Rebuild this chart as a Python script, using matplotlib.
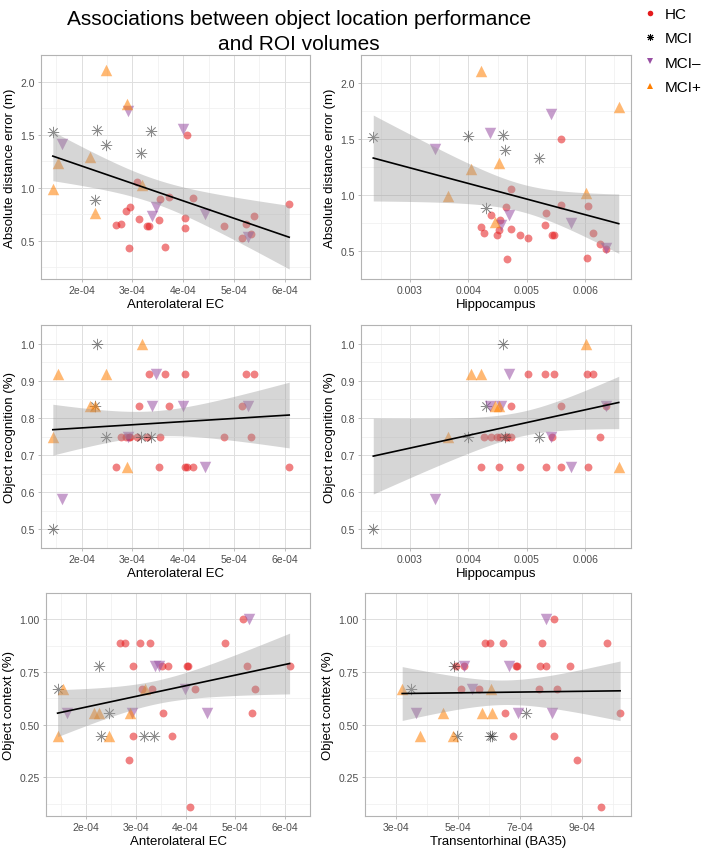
import numpy as np
import matplotlib
matplotlib.use("Agg")
import matplotlib.pyplot as plt
from matplotlib.lines import Line2D

plt.rcParams['font.family'] = ['Liberation Sans', 'DejaVu Sans']

W, H = 709, 853

# ---- data, one entry per subject ----
hc_alec = [2.68e-4, 2.78e-4, 2.87e-4, 2.94e-4, 2.95e-4, 3.08e-4, 3.13e-4, 3.28e-4, 3.33e-4, 3.53e-4, 3.54e-4, 3.64e-4,
           3.73e-4, 4.03e-4, 4.04e-4, 4.08e-4, 4.20e-4, 4.80e-4, 5.16e-4, 5.23e-4, 5.34e-4, 5.40e-4, 6.09e-4]
hc_hippo = [0.004884, 0.004264, 0.004537, 0.004662, 0.004394, 0.00473, 0.00473, 0.005425, 0.005459, 0.004525, 0.004639, 0.006034,
            0.005578, 0.005026, 0.004218, 0.005578, 0.006051, 0.004491, 0.006364, 0.006136, 0.00625, 0.005305, 0.005333]
hc_ba35 = [5.88e-4, 6.02e-4, 8.85e-4, 6.77e-4, 4.93e-4, 6.44e-4, 5.09e-4, 7.71e-4, 5.69e-4, 5.20e-4, 6.51e-4, 6.87e-4,
           8.10e-4, 6.91e-4, 7.64e-4, 9.61e-4, 7.62e-4, 9.80e-4, 8.10e-4, 7.84e-4, 10.23e-4, 8.18e-4, 8.60e-4]
hc_dist = [0.647, 0.66, 0.78, 0.43, 0.82, 1.05, 0.70, 0.64, 0.64, 0.69, 0.89, 0.44,
           0.915, 0.62, 0.71, 1.50, 0.90, 0.64, 0.52, 0.66, 0.56, 0.73, 0.84]
hc_recog = [0.667, 0.75, 0.75, 0.75, 0.75, 0.75, 0.833, 0.75, 0.917, 0.667, 0.75, 0.917,
            0.833, 0.917, 0.667, 0.667, 0.667, 0.75, 0.833, 0.917, 0.75, 0.917, 0.667]
hc_context = [0.889, 0.889, 0.333, 0.444, 0.778, 0.889, 0.667, 0.889, 0.667, 0.778, 0.556, 0.778,
              0.444, 0.778, 0.778, 0.111, 0.667, 0.889, 1.0, 0.778, 0.556, 0.667, 0.778]

mci_alec = [1.44e-4, 2.26e-4, 2.30e-4, 2.47e-4, 3.16e-4, 3.36e-4]
mci_hippo = [0.00237, 0.00430, 0.00460, 0.00462, 0.00521, 0.00400]
mci_ba35 = [3.49e-4, 4.88e-4, 4.98e-4, 7.21e-4, 6.02e-4, 6.10e-4]
mci_dist = [1.52, 0.88, 1.54, 1.40, 1.33, 1.53]
mci_recog = [0.5, 0.833, 1.0, 0.75, 0.75, 0.75]
mci_context = [0.667, 0.778, 0.444, 0.556, 0.444, 0.444]

mcin_alec = [1.61e-4, 2.92e-4, 3.39e-4, 3.46e-4, 3.99e-4, 4.43e-4, 5.27e-4]
mcin_hippo = [0.00343, 0.00541, 0.00456, 0.00470, 0.00437, 0.00576, 0.00636]
mcin_ba35 = [3.65e-4, 6.93e-4, 5.20e-4, 6.64e-4, 5.45e-4, 8.04e-4, 7.85e-4]
mcin_dist = [1.41, 1.72, 0.73, 0.82, 1.55, 0.75, 0.53]
mcin_recog = [0.583, 0.75, 0.833, 0.917, 0.833, 0.667, 0.833]
mcin_context = [0.556, 0.556, 0.778, 0.778, 0.667, 0.556, 1.0]

mcip_alec = [1.43e-4, 1.53e-4, 2.17e-4, 2.27e-4, 2.47e-4, 2.89e-4, 3.19e-4]
mcip_hippo = [0.003655, 0.004036, 0.004531, 0.004451, 0.004207, 0.006574, 0.006005]
mcip_ba35 = [3.78e-4, 3.20e-4, 4.53e-4, 5.76e-4, 4.83e-4, 6.10e-4, 6.07e-4]
mcip_dist = [0.99, 1.23, 1.29, 0.76, 2.11, 1.79, 1.02]
mcip_recog = [0.75, 0.917, 0.833, 0.833, 0.917, 0.667, 1.0]
mcip_context = [0.444, 0.667, 0.556, 0.556, 0.444, 0.556, 0.667]

group_names = ['HC', 'MCI', 'MCI–', 'MCI+']
group_colors = ['#E41A1C', '#000000', '#984EA3', '#FF7F00']

# tick breaks and labels
alec_ticks = [2e-4, 3e-4, 4e-4, 5e-4, 6e-4]
alec_labels = ['2e-04', '3e-04', '4e-04', '5e-04', '6e-04']
hippo_ticks = [0.003, 0.004, 0.005, 0.006]
hippo_labels = ['0.003', '0.004', '0.005', '0.006']
ba35_ticks = [3e-4, 5e-4, 7e-4, 9e-4]
ba35_labels = ['3e-04', '5e-04', '7e-04', '9e-04']
dist_ticks = [0.5, 1.0, 1.5, 2.0]
dist_labels = ['0.5', '1.0', '1.5', '2.0']
recog_ticks = [0.5, 0.6, 0.7, 0.8, 0.9, 1.0]
recog_labels = ['0.5', '0.6', '0.7', '0.8', '0.9', '1.0']
context_ticks = [0.25, 0.50, 0.75, 1.00]
context_labels = ['0.25', '0.50', '0.75', '1.00']

data = {
    'HC': dict(alec=hc_alec, hippo=hc_hippo, ba35=hc_ba35, dist=hc_dist, recog=hc_recog, context=hc_context),
    'MCI': dict(alec=mci_alec, hippo=mci_hippo, ba35=mci_ba35, dist=mci_dist, recog=mci_recog, context=mci_context),
    'MCI–': dict(alec=mcin_alec, hippo=mcin_hippo, ba35=mcin_ba35, dist=mcin_dist, recog=mcin_recog, context=mcin_context),
    'MCI+': dict(alec=mcip_alec, hippo=mcip_hippo, ba35=mcip_ba35, dist=mcip_dist, recog=mcip_recog, context=mcip_context),
}

xinfo = {'alec': ('Anterolateral EC', alec_ticks, alec_labels),
         'hippo': ('Hippocampus', hippo_ticks, hippo_labels),
         'ba35': ('Transentorhinal (BA35)', ba35_ticks, ba35_labels)}
yinfo = {'dist': ('Absolute distance error (m)', dist_ticks, dist_labels),
         'recog': ('Object recognition (%)', recog_ticks, recog_labels),
         'context': ('Object context (%)', context_ticks, context_labels)}

# (x var, y var, panel box in pixels: left, top, right, bottom)
panels = [('alec', 'dist', (41, 56, 310, 280)),
          ('hippo', 'dist', (361, 56, 631, 280)),
          ('alec', 'recog', (41, 326, 310, 549)),
          ('hippo', 'recog', (361, 326, 631, 549)),
          ('alec', 'context', (46, 594, 310, 817)),
          ('ba35', 'context', (365, 594, 631, 817))]

styles = {'HC': dict(marker='o', s=32, linewidths=0, alpha=0.55),
          'MCI': dict(marker=(8, 2, 0), s=60, linewidths=0.55, alpha=0.45),
          'MCI–': dict(marker='v', s=68, linewidths=0, alpha=0.55),
          'MCI+': dict(marker='^', s=68, linewidths=0, alpha=0.55)}


def lm_band(x, y, npts=80, t=2.02):
    x = np.asarray(x)
    y = np.asarray(y)
    n = len(x)
    b, a = np.polyfit(x, y, 1)
    xs = np.linspace(x.min(), x.max(), npts)
    fit = a + b * xs
    resid = y - (a + b * x)
    s = np.sqrt(np.sum(resid ** 2) / (n - 2))
    xm = x.mean()
    se = s * np.sqrt(1 / n + (xs - xm) ** 2 / np.sum((x - xm) ** 2))
    return xs, fit, fit - t * se, fit + t * se


def minors(ticks):
    step = ticks[1] - ticks[0]
    return [ticks[0] - step / 2] + [v + step / 2 for v in ticks]


fig = plt.figure(figsize=(W / 100, H / 100), dpi=100)

for xv, yv, (l, t, r, b) in panels:
    ax = fig.add_axes([l / W, 1 - b / H, (r - l) / W, (b - t) / H])
    allx, ally = [], []
    for g, c in zip(group_names, group_colors):
        gx = data[g][xv]
        gy = data[g][yv]
        allx += gx
        ally += gy
        ax.scatter(gx, gy, color=c, zorder=2, **styles[g])
    xs, fit, lo, hi = lm_band(allx, ally)
    ax.fill_between(xs, lo, hi, color='#999999', alpha=0.4, linewidth=0, zorder=3)
    ax.plot(xs, fit, color='black', lw=1.2, zorder=4)

    xlab, xt, xtl = xinfo[xv]
    ylab, yt, ytl = yinfo[yv]
    ax.set_xticks(xt)
    ax.set_xticklabels(xtl)
    ax.set_yticks(yt)
    ax.set_yticklabels(ytl)
    ax.set_xticks(minors(xt), minor=True)
    ax.set_yticks(minors(yt), minor=True)
    ax.set_xlim(ax.get_xlim())
    ax.set_ylim(ax.get_ylim())
    ax.set_xlabel(xlab, fontsize=9.5, labelpad=2)
    ax.set_ylabel(ylab, fontsize=9.5, labelpad=3)
    ax.grid(which='major', color='#DEDEDE', lw=0.7, zorder=0)
    ax.grid(which='minor', color='#EFEFEF', lw=0.5, zorder=0)
    ax.set_axisbelow(True)
    ax.tick_params(which='major', length=2.5, width=0.6, color='#B3B3B3', labelsize=7.5,
                   labelcolor='#4D4D4D', pad=2)
    ax.tick_params(which='minor', length=0)
    for sp in ax.spines.values():
        sp.set_color('#B3B3B3')
        sp.set_linewidth(0.8)

fig.text(299 / W, 1 - 32 / H, 'Associations between object location performance\nand ROI volumes',
         ha='center', va='center', fontsize=15, linespacing=1.35)

handles = [Line2D([], [], linestyle='none', marker='o', markersize=4, color=group_colors[0], markeredgewidth=0),
           Line2D([], [], linestyle='none', marker=(8, 2, 0), markersize=5, color=group_colors[1], markeredgewidth=0.7),
           Line2D([], [], linestyle='none', marker='v', markersize=5, color=group_colors[2], markeredgewidth=0),
           Line2D([], [], linestyle='none', marker='^', markersize=5, color=group_colors[3], markeredgewidth=0)]
fig.legend(handles, group_names, loc='upper left', bbox_to_anchor=(642 / W, 1 - 8 / H), frameon=False,
           fontsize=11, handlelength=1.0, handletextpad=0.5, labelspacing=0.68, borderaxespad=0, borderpad=0)

fig.savefig('out.png', dpi=100)
